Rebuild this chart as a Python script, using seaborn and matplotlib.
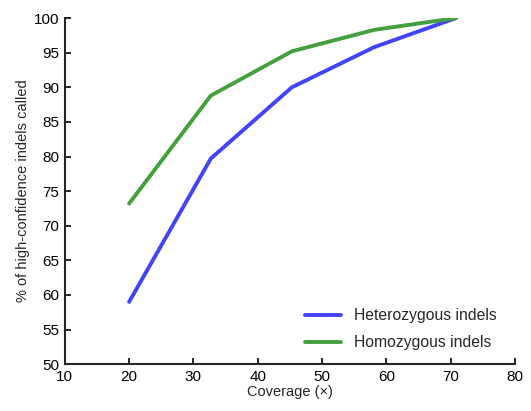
import numpy as np
from matplotlib import pyplot as plt
import pandas as pd
import seaborn as sns

sns.set_style("ticks")
plt.rcParams["font.family"] = ["Liberation Sans", "DejaVu Sans"]

coverage = [20, 32.7, 45.3, 58.1, 70.8]
hetero = [59.0, 79.7, 90.0, 95.8, 100.0]
homo = [73.2, 88.8, 95.2, 98.3, 100.0]
series_names = ["Heterozygous indels", "Homozygous indels"]
colors = ["#4343fa", "#44a03c"]

df = pd.DataFrame(
    {
        "coverage": coverage * 2,
        "pct": hetero + homo,
        "type": [series_names[0]] * len(coverage) + [series_names[1]] * len(coverage),
    }
)

fig = plt.figure(figsize=(5.31, 4.11), dpi=100)
ax = fig.add_axes([0.122, 0.114, 0.848, 0.842])
sns.lineplot(
    data=df,
    x="coverage",
    y="pct",
    hue="type",
    palette=colors,
    linewidth=2.8,
    ax=ax,
)
ax.set_xlim(10, 80)
ax.set_ylim(50, 100)
ax.set_xticks(range(10, 81, 10))
ax.set_yticks(range(50, 101, 5))
ax.set_xlabel("Coverage (\u00d7)", fontsize=10.5, labelpad=1)
ax.set_ylabel("% of high-confidence indels called", fontsize=10.5, labelpad=3)
ax.spines["top"].set_visible(False)
ax.spines["right"].set_visible(False)
ax.spines["left"].set_linewidth(1.5)
ax.spines["bottom"].set_linewidth(1.5)
ax.tick_params(direction="in", width=1.2, length=4, labelsize=11, colors="black", pad=4)
ax.legend(
    frameon=False,
    loc="lower right",
    fontsize=11.3,
    handlelength=2.3,
    bbox_to_anchor=(0.99, 0.0),
    labelspacing=0.75,
)
plt.savefig("out.png", dpi=100)
